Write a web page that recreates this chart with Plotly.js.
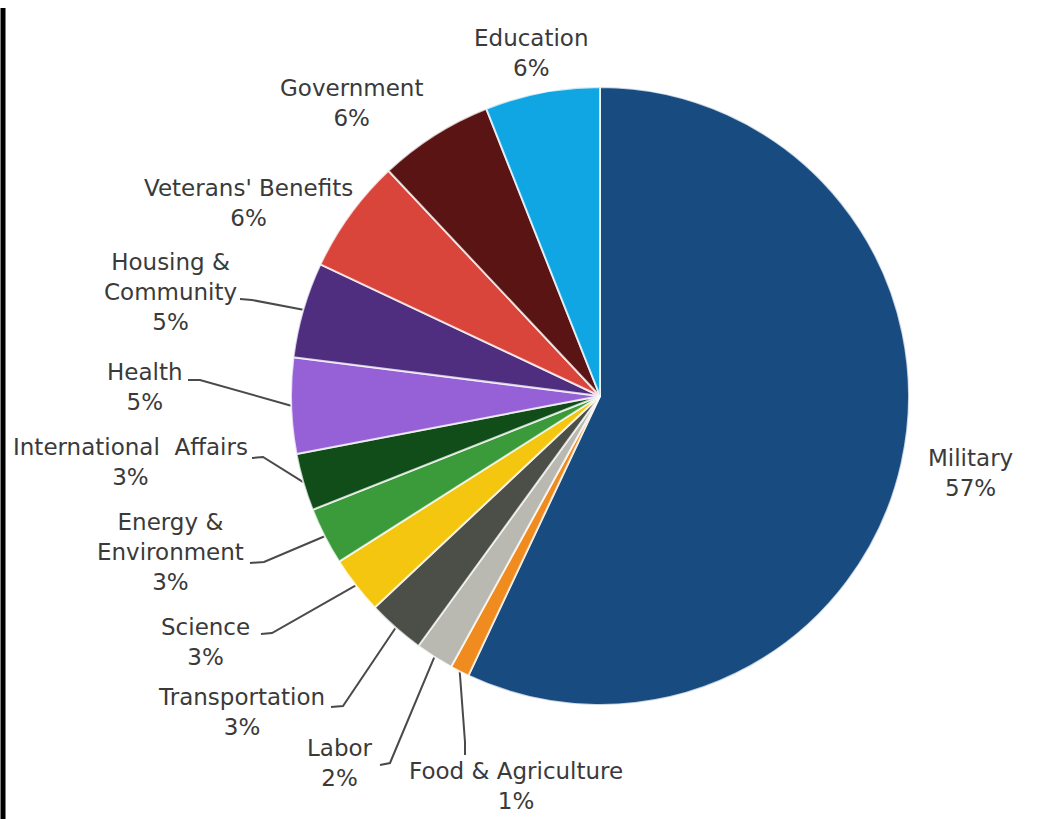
<!DOCTYPE html>
<html>
<head>
<meta charset="utf-8">
<script src="https://cdn.plot.ly/plotly-3.0.1.min.js"></script>
<style>html,body{margin:0;padding:0;background:#fff;}#chart{width:1048px;height:819px;}</style>
</head>
<body>
<div id="chart"></div>
<script>
// ---- data ----
var categories = ["Military", "Food & Agriculture", "Labor", "Transportation", "Science",
  "Energy & Environment", "International Affairs", "Health", "Housing & Community",
  "Veterans' Benefits", "Government", "Education"];
var shares = [57, 1, 2, 3, 3, 3, 3, 5, 5, 6, 6, 6];
var labelText = ["Military", "Food & Agriculture", "Labor", "Transportation", "Science",
  "Energy &<br>Environment", "International  Affairs", "Health", "Housing &<br>Community",
  "Veterans' Benefits", "Government", "Education"];

// ---- style / layout ----
var colors = ["#184b80", "#ef8b1f", "#b9b9b1", "#4b4f47", "#f4c60f", "#3b9b3b",
  "#104d19", "#9661d6", "#4f2d7f", "#d9453a", "#5a1414", "#10a6e3"];
var W = 1048, H = 819;
var cx = 600, cy = 396, R = 309;
// label block centres (px)
var labelPos = [[970, 473], [516, 786], [340, 763], [241, 712], [205, 642], [170, 552],
  [130, 462], [145, 387], [170, 292], [248, 203], [351, 103], [531, 53]];
// leader line: text end point and knee (px); null = no leader
var leaderPts = [null, [[465, 755], [465, 742]], [[380, 765], [390, 763]], [[331, 707], [343, 706]],
  [[261, 634], [272, 633]], [[250, 563], [264, 562]], [[252, 458], [263, 457]],
  [[188, 380], [200, 380]], [[240, 299], [252, 300]], null, null, null];

var total = shares.reduce(function (a, b) { return a + b; }, 0);
var traces = [];
traces.push({
  type: "pie", values: shares, labels: categories, sort: false, direction: "clockwise",
  rotation: 0, textinfo: "none", hoverinfo: "skip", showlegend: false,
  marker: { colors: colors, line: { color: "rgba(255,255,255,0.75)", width: 2 } },
  domain: { x: [(cx - R) / W, (cx + R) / W], y: [(H - cy - R) / H, (H - cy + R) / H] }
});

var annotations = [];
var cum = 0;
for (var i = 0; i < shares.length; i++) {
  var mid = (cum + shares[i] / 2) / total * 2 * Math.PI;
  cum += shares[i];
  var tx = cx + R * Math.sin(mid), ty = cy - R * Math.cos(mid);
  if (leaderPts[i]) {
    traces.push({
      type: "scatter", mode: "lines", hoverinfo: "skip", showlegend: false,
      x: [leaderPts[i][0][0], leaderPts[i][1][0], tx],
      y: [leaderPts[i][0][1], leaderPts[i][1][1], ty],
      line: { color: "#4a4a4a", width: 2 }
    });
  }
  annotations.push({
    xref: "x", yref: "y", x: labelPos[i][0], y: labelPos[i][1],
    xanchor: "center", yanchor: "middle", showarrow: false,
    text: labelText[i] + "<br>" + shares[i] + "%",
    font: { family: "DejaVu Sans", size: 23, color: "#3a3a3a" }
  });
}

var layout = {
  width: W, height: H, margin: { l: 0, r: 0, t: 0, b: 0 },
  paper_bgcolor: "#ffffff", plot_bgcolor: "rgba(0,0,0,0)",
  xaxis: { range: [0, W], visible: false, fixedrange: true },
  yaxis: { range: [H, 0], visible: false, fixedrange: true },
  hovermode: false, showlegend: false,
  annotations: annotations,
  shapes: [{ type: "line", xref: "paper", yref: "paper", x0: 3 / W, x1: 3 / W, y0: 0, y1: (H - 8) / H,
    line: { color: "#000", width: 5 } }]
};
Plotly.newPlot("chart", traces, layout, { staticPlot: true, displayModeBar: false });
</script>
</body>
</html>
